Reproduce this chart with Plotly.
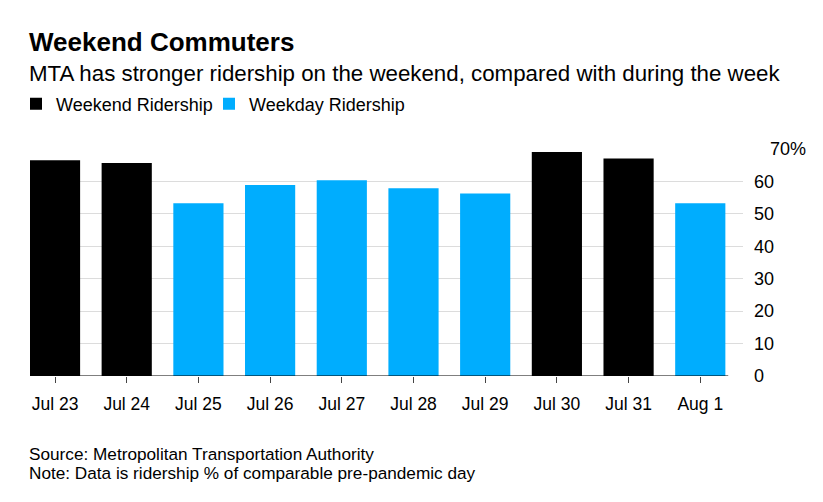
import plotly.graph_objects as go

categories = ["Jul 23", "Jul 24", "Jul 25", "Jul 26", "Jul 27", "Jul 28", "Jul 29", "Jul 30", "Jul 31", "Aug 1"]
weekend_days = ["Jul 23", "Jul 24", "Jul 30", "Jul 31"]
weekend_values = [66.5, 65.7, 69.1, 67.1]
weekday_days = ["Jul 25", "Jul 26", "Jul 27", "Jul 28", "Jul 29", "Aug 1"]
weekday_values = [53.3, 58.9, 60.4, 57.9, 56.3, 53.3]
y_tickvals = [0, 10, 20, 30, 40, 50, 60]
y_ticktext = ["0", "10", "20", "30", "40", "50", "60"]

W, H = 823, 502
L, R, T, B = 30, 80, 149, 126
plot_w = W - L - R
plot_h = H - T - B

def py(p):
    return (H - B - p) / plot_h

def px(p):
    return (p - L) / plot_w

FONT = "Liberation Sans, Arial, Helvetica, sans-serif"
BLUE = "#00adfe"

fig = go.Figure()
fig.add_trace(go.Bar(x=weekend_days, y=weekend_values, name="Weekend Ridership",
                     marker=dict(color="#000000", line=dict(width=0)), legend="legend"))
fig.add_trace(go.Bar(x=weekday_days, y=weekday_values, name="Weekday Ridership",
                     marker=dict(color=BLUE, line=dict(width=0)), legend="legend2"))

legend_common = dict(orientation="h", xanchor="left", y=py(104), yanchor="middle",
                     font=dict(size=18), itemclick=False, bgcolor="rgba(0,0,0,0)",
                     borderwidth=0, itemwidth=30)

fig.update_layout(
    width=W, height=H,
    margin=dict(l=L, r=R, t=T, b=B, pad=0),
    paper_bgcolor="white", plot_bgcolor="white",
    barmode="overlay", bargap=0.3,
    font=dict(family=FONT, color="#000000", size=16),
    showlegend=True,
    legend=dict(x=px(16), **legend_common),
    legend2=dict(x=px(209), **legend_common),
    xaxis=dict(type="category", categoryorder="array", categoryarray=categories,
               range=[-0.349, 9.596], showgrid=False, zeroline=False, showline=False,
               ticks="outside", ticklen=6, tickcolor="#444444", tickwidth=1,
               tickfont=dict(size=17.5), ticklabelstandoff=6),
    yaxis=dict(side="right", range=[0, 70], tickvals=y_tickvals + [70], ticktext=y_ticktext + [""],
               showgrid=True, gridcolor="#dcdcdc", gridwidth=1, zeroline=False, showline=False,
               ticks="", tickfont=dict(size=18), ticklabelstandoff=10),
)

fig.add_shape(type="line", xref="x", yref="y", x0=-0.39, x1=9.39, y0=0, y1=0,
              line=dict(color="#000000", width=1.2), layer="above")

annotations = [
    dict(text="<b>Weekend Commuters</b>", y=py(42), font=dict(size=26)),
    dict(text="MTA has stronger ridership on the weekend, compared with during the week", y=py(73), font=dict(size=22.3)),
    dict(text="Source: Metropolitan Transportation Authority", y=py(454), font=dict(size=17.2)),
    dict(text="Note: Data is ridership % of comparable pre-pandemic day", y=py(473), font=dict(size=17.2)),
]
for a in annotations:
    fig.add_annotation(xref="paper", yref="paper", x=px(27), xanchor="left", yanchor="middle",
                       showarrow=False, align="left", **a)
fig.add_annotation(text="70%", xref="paper", yref="y", x=px(768), y=70,
                   xanchor="left", yanchor="middle", showarrow=False, font=dict(size=18))

fig.write_html("out.html")
